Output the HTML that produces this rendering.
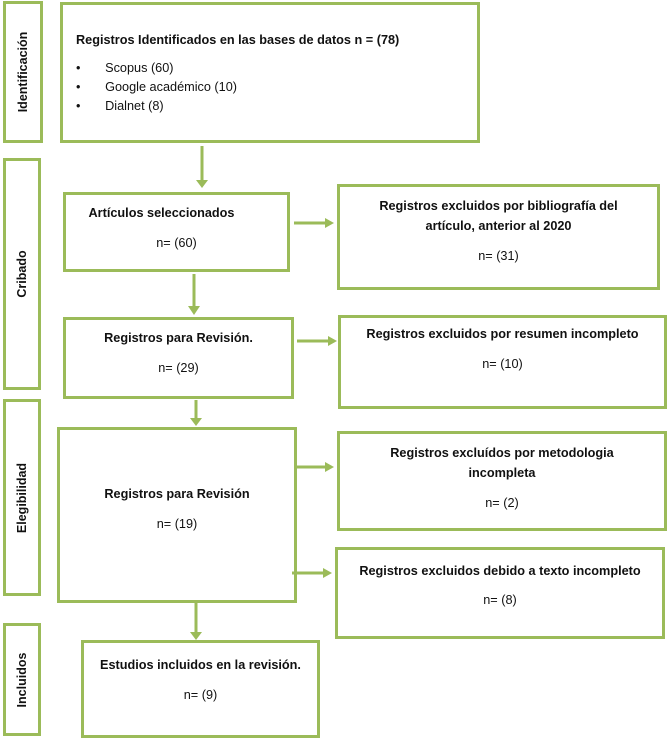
<!DOCTYPE html>
<html><head><meta charset="utf-8"><style>
body{margin:0;width:671px;height:742px;background:#fff;position:relative;font-family:"Liberation Sans",sans-serif;font-size:12.7px;color:#111;overflow:hidden}
.b{position:absolute;border:3px solid #9bbb59;box-sizing:border-box;background:#fff}
.c{text-align:center}
.t{font-weight:bold}
.side{position:absolute;border:3px solid #9bbb59;box-sizing:border-box}
.side span{position:absolute;left:50%;top:50%;transform:translate(-50%,-50%) rotate(-90deg);font-weight:bold;white-space:nowrap;font-size:12.5px}
p{margin:0}
svg{position:absolute;left:0;top:0}
</style></head><body>
<div class="side" style="left:3px;top:1px;width:40px;height:142px"><span>Identificación</span></div>
<div class="side" style="left:3px;top:158px;width:38px;height:232px"><span>Cribado</span></div>
<div class="side" style="left:3px;top:399px;width:38px;height:197px"><span>Elegibilidad</span></div>
<div class="side" style="left:3px;top:623px;width:38px;height:113px"><span>Incluidos</span></div>

<div class="b" style="left:60px;top:2px;width:420px;height:141px;padding:28px 0 0 13px">
<p class="t">Registros Identificados en las bases de datos n = (78)</p>
<p style="margin-top:12px;line-height:19px">•&nbsp;&nbsp;&nbsp;&nbsp;&nbsp;&nbsp;&nbsp;Scopus (60)<br>•&nbsp;&nbsp;&nbsp;&nbsp;&nbsp;&nbsp;&nbsp;Google académico (10)<br>•&nbsp;&nbsp;&nbsp;&nbsp;&nbsp;&nbsp;&nbsp;Dialnet (8)</p>
</div>

<div class="b c" style="left:63px;top:192px;width:227px;height:80px;padding-top:11px"><p class="t" style="margin-right:30px">Artículos seleccionados</p><p style="margin-top:16px">n= (60)</p></div>
<div class="b c" style="left:337px;top:184px;width:323px;height:106px;padding-top:9px"><p class="t" style="line-height:20px">Registros excluidos por bibliografía del<br>artículo, anterior al 2020</p><p style="margin-top:13px">n= (31)</p></div>

<div class="b c" style="left:63px;top:317px;width:231px;height:82px;padding-top:11px"><p class="t">Registros para Revisión.</p><p style="margin-top:16px">n= (29)</p></div>
<div class="b c" style="left:338px;top:315px;width:329px;height:94px;padding-top:9px"><p class="t">Registros excluidos por resumen incompleto</p><p style="margin-top:16px">n= (10)</p></div>

<div class="b c" style="left:57px;top:427px;width:240px;height:176px;padding-top:57px"><p class="t">Registros para Revisión</p><p style="margin-top:16px">n= (19)</p></div>
<div class="b c" style="left:337px;top:431px;width:330px;height:100px;padding-top:9px"><p class="t" style="line-height:20px">Registros excluídos por metodologia<br>incompleta</p><p style="margin-top:13px">n= (2)</p></div>
<div class="b c" style="left:335px;top:547px;width:330px;height:92px;padding-top:14px"><p class="t">Registros excluidos debido a texto incompleto</p><p style="margin-top:15px">n= (8)</p></div>

<div class="b c" style="left:81px;top:640px;width:239px;height:98px;padding-top:15px"><p class="t">Estudios incluidos en la revisión.</p><p style="margin-top:16px">n= (9)</p></div>

<svg width="671" height="742">
<g stroke="#9bbb59" stroke-width="3" fill="none">
<line x1="202" y1="146" x2="202" y2="180"/>
<line x1="194" y1="274" x2="194" y2="306"/>
<line x1="196" y1="400" x2="196" y2="418"/>
<line x1="196" y1="603" x2="196" y2="632"/>
<line x1="294" y1="223" x2="325" y2="223"/>
<line x1="297" y1="341" x2="328" y2="341"/>
<line x1="297" y1="467" x2="325" y2="467"/>
<line x1="292" y1="573" x2="323" y2="573"/>
</g>
<g fill="#9bbb59">
<polygon points="196,180 208,180 202,188"/>
<polygon points="188,306 200,306 194,315"/>
<polygon points="190,418 202,418 196,426"/>
<polygon points="190,632 202,632 196,640"/>
<polygon points="325,218 325,228 334,223"/>
<polygon points="328,336 328,346 337,341"/>
<polygon points="325,462 325,472 334,467"/>
<polygon points="323,568 323,578 332,573"/>
</g>
</svg>
</body></html>
